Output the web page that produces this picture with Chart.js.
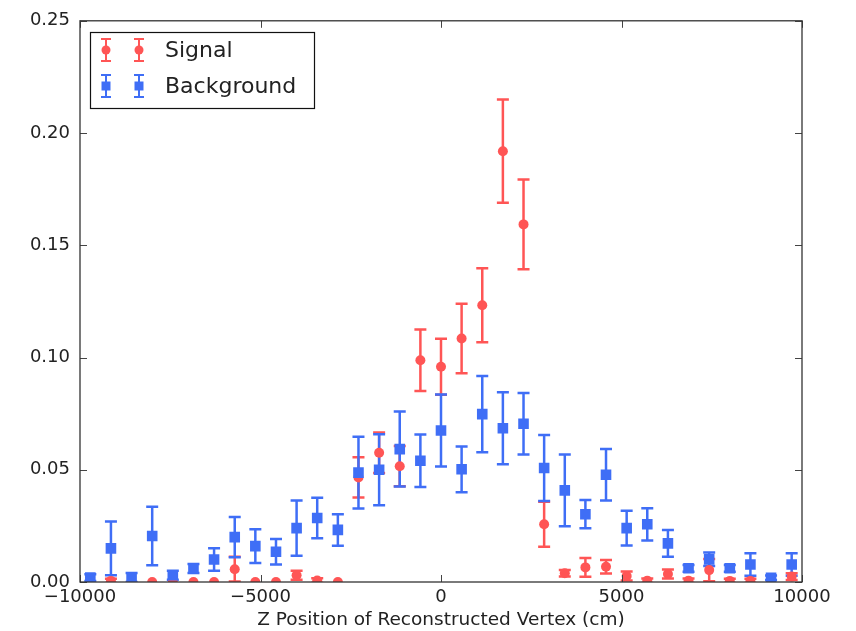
<!DOCTYPE html>
<html lang="en">
<head>
  <meta charset="UTF-8">
  <title>Z Position of Reconstructed Vertex</title>
  <script src="https://cdn.jsdelivr.net/npm/chart.js"></script>
  <style>
    html, body {
      margin: 0;
      padding: 0;
      background: #fff;
    }
    .chart-container {
      width: 856px;
      height: 631px;
    }
  </style>
</head>
<body>

  <div class="chart-container">
    <canvas id="vertexChart"></canvas>
  </div>

  <script>
    // bin centres (cm)
    const zBins = [
      -9714, -9143, -8571, -8000, -7429, -6857, -6286, -5714, -5143, -4571,
      -4000, -3429, -2857, -2286, -1714, -1143, -571, 0, 571, 1143,
      1714, 2286, 2857, 3429, 4000, 4571, 5143, 5714, 6286, 6857,
      7429, 8000, 8571, 9143, 9714
    ];

    const signalValues = [
      0, 0.0005, 0, 0, 0, 0, 0, 0.0057, 0, 0,
      0.003, 0.0007, 0, 0.0466, 0.0576, 0.0516, 0.0988, 0.0959, 0.1085, 0.1233,
      0.1919, 0.1593, 0.0257, 0.0039, 0.0065, 0.0068, 0.0027, 0.0006, 0.0036, 0.0006,
      0.0053, 0.0005, 0.0005, 0, 0.0024
    ];
    const signalErrors = [
      0, 0.001, 0, 0, 0, 0, 0, 0.0055, 0, 0,
      0.002, 0.001, 0, 0.009, 0.009, 0.009, 0.0137, 0.0125, 0.0155, 0.0165,
      0.023, 0.020, 0.010, 0.0015, 0.0042, 0.003, 0.002, 0.001, 0.002, 0.001,
      0.005, 0.001, 0.001, 0, 0.0015
    ];

    const backgroundValues = [
      0.002, 0.015, 0.002, 0.0205, 0.003, 0.006, 0.010, 0.020, 0.016, 0.0135,
      0.024, 0.0285, 0.0232, 0.0487, 0.050, 0.0592, 0.054, 0.0675, 0.0502, 0.0748,
      0.0685, 0.0705, 0.0508, 0.0408, 0.0302, 0.0478, 0.024, 0.0257, 0.0172, 0.0061,
      0.0101, 0.0061, 0.0078, 0.0019, 0.0078
    ];
    const backgroundErrors = [
      0.0015, 0.012, 0.002, 0.013, 0.002, 0.002, 0.005, 0.009, 0.0075, 0.0057,
      0.0123, 0.009, 0.007, 0.016, 0.0158, 0.0167, 0.0117, 0.016, 0.0102, 0.017,
      0.016, 0.0137, 0.0147, 0.016, 0.0063, 0.0115, 0.0077, 0.0072, 0.006, 0.0015,
      0.003, 0.0015, 0.005, 0.001, 0.005
    ];

    const xTicks = [-10000, -5000, 0, 5000, 10000];
    const yTicks = [0, 0.05, 0.10, 0.15, 0.20, 0.25];

    const RED = '#ff5555';
    const BLUE = '#3f6ef6';
    const TEXT = '#222';

    const toPoints = (vals) => vals.map((v, i) => ({ x: zBins[i], y: v }));

    // error bars, drawn under all markers
    const errorBarPlugin = {
      id: 'errorBars',
      beforeDatasetsDraw(chart) {
        const ctx = chart.ctx;
        const a = chart.chartArea;
        const xs = chart.scales.x, ys = chart.scales.y;
        ctx.save();
        ctx.beginPath();
        ctx.rect(a.left, a.top, a.right - a.left, a.bottom - a.top);
        ctx.clip();
        // signal first, then background
        [1, 0].forEach(di => {
          const ds = chart.data.datasets[di];
          ctx.strokeStyle = ds.borderColor;
          ctx.lineWidth = 2.5;
          ds.data.forEach((p, i) => {
            const e = ds.errors[i];
            if (!e) return;
            const px = xs.getPixelForValue(p.x);
            const top = ys.getPixelForValue(p.y + e);
            const bot = ys.getPixelForValue(p.y - e);
            ctx.beginPath();
            ctx.moveTo(px, top); ctx.lineTo(px, bot);
            ctx.moveTo(px - 6, top); ctx.lineTo(px + 6, top);
            ctx.moveTo(px - 6, bot); ctx.lineTo(px + 6, bot);
            ctx.stroke();
          });
        });
        ctx.restore();
      }
    };

    // axes frame + inward ticks + legend
    const framePlugin = {
      id: 'frame',
      afterDraw(chart) {
        const ctx = chart.ctx;
        const a = chart.chartArea;
        const xs = chart.scales.x, ys = chart.scales.y;
        ctx.save();
        ctx.strokeStyle = '#444';
        ctx.lineWidth = 1;
        xTicks.forEach(t => {
          const px = Math.round(xs.getPixelForValue(t)) + 0.5;
          ctx.beginPath();
          ctx.moveTo(px, a.bottom); ctx.lineTo(px, a.bottom - 7);
          ctx.moveTo(px, a.top); ctx.lineTo(px, a.top + 7);
          ctx.stroke();
        });
        yTicks.forEach(t => {
          const py = Math.round(ys.getPixelForValue(t)) + 0.5;
          ctx.beginPath();
          ctx.moveTo(a.left, py); ctx.lineTo(a.left + 7, py);
          ctx.moveTo(a.right, py); ctx.lineTo(a.right - 7, py);
          ctx.stroke();
        });
        ctx.strokeStyle = '#333';
        ctx.lineWidth = 1.3;
        ctx.strokeRect(a.left, a.top, a.right - a.left, a.bottom - a.top);

        // legend
        const lx = 90.5, ly = 32.5, lw = 224, lh = 76;
        ctx.fillStyle = '#fff';
        ctx.fillRect(lx, ly, lw, lh);
        ctx.strokeStyle = '#111';
        ctx.lineWidth = 1.2;
        ctx.strokeRect(lx, ly, lw, lh);
        const rows = [
          { label: 'Signal', color: RED, y: 50, shape: 'circle' },
          { label: 'Background', color: BLUE, y: 86, shape: 'rect' }
        ];
        rows.forEach(r => {
          [106, 139].forEach(mx => {
            ctx.strokeStyle = r.color;
            ctx.fillStyle = r.color;
            ctx.lineWidth = 2;
            ctx.beginPath();
            ctx.moveTo(mx, r.y - 11); ctx.lineTo(mx, r.y + 11);
            ctx.moveTo(mx - 5, r.y - 11); ctx.lineTo(mx + 5, r.y - 11);
            ctx.moveTo(mx - 5, r.y + 11); ctx.lineTo(mx + 5, r.y + 11);
            ctx.stroke();
            ctx.beginPath();
            if (r.shape === 'circle') {
              ctx.arc(mx, r.y, 4.5, 0, Math.PI * 2);
            } else {
              ctx.rect(mx - 4.5, r.y - 4.5, 9, 9);
            }
            ctx.fill();
          });
          ctx.fillStyle = TEXT;
          ctx.font = '22px "DejaVu Sans"';
          ctx.textBaseline = 'middle';
          ctx.textAlign = 'left';
          ctx.fillText(r.label, 165, r.y + 1);
        });
        ctx.restore();
      }
    };

    new Chart(document.getElementById('vertexChart'), {
      type: 'scatter',
      data: {
        datasets: [
          {
            label: 'Background',
            data: toPoints(backgroundValues),
            errors: backgroundErrors,
            pointStyle: 'rect',
            pointRadius: 7.5,
            backgroundColor: BLUE,
            borderColor: BLUE,
            borderWidth: 0,
            clip: 0
          },
          {
            label: 'Signal',
            data: toPoints(signalValues),
            errors: signalErrors,
            pointStyle: 'circle',
            pointRadius: 5,
            backgroundColor: RED,
            borderColor: RED,
            borderWidth: 0,
            clip: 0
          }
        ]
      },
      options: {
        responsive: true,
        maintainAspectRatio: false,
        animation: false,
        layout: { padding: { top: 20, right: 54, left: 0, bottom: 0 } },
        plugins: {
          legend: { display: false },
          tooltip: { enabled: false }
        },
        scales: {
          x: {
            type: 'linear',
            min: -10000,
            max: 10000,
            afterFit: s => { s.height = 49; },
            afterBuildTicks: s => { s.ticks = xTicks.map(v => ({ value: v })); },
            grid: { display: false, drawTicks: false, tickLength: 0 },
            border: { display: false },
            ticks: {
              color: TEXT,
              padding: 5,
              maxRotation: 0,
              font: { family: 'DejaVu Sans', size: 18 },
              callback: v => (v < 0 ? '\u2212' + Math.abs(v) : String(v))
            },
            title: {
              display: true,
              text: 'Z Position of Reconstructed Vertex (cm)',
              color: TEXT,
              padding: { top: 2, bottom: 0 },
              font: { family: 'DejaVu Sans', size: 18.5 }
            }
          },
          y: {
            min: 0,
            max: 0.25,
            afterFit: s => { s.width = 80; },
            afterBuildTicks: s => { s.ticks = yTicks.map(v => ({ value: v })); },
            grid: { display: false, drawTicks: false, tickLength: 0 },
            border: { display: false },
            ticks: {
              color: TEXT,
              padding: 10,
              font: { family: 'DejaVu Sans', size: 18 },
              callback: v => Number(v).toFixed(2)
            }
          }
        }
      },
      plugins: [errorBarPlugin, framePlugin]
    });
  </script>

</body>
</html>
